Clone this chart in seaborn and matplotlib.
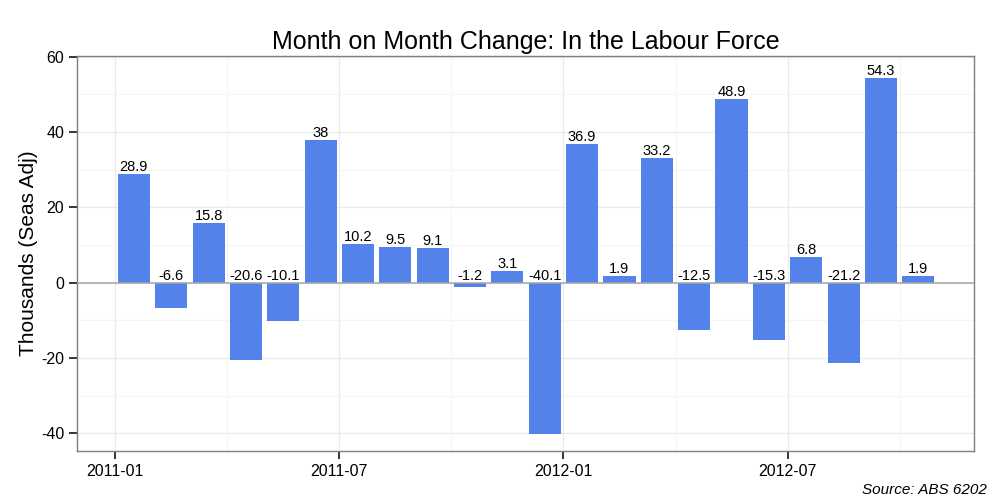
import numpy as np
import pandas as pd
import matplotlib
matplotlib.use("Agg")
import matplotlib.pyplot as plt
import seaborn as sns
from matplotlib.ticker import MultipleLocator

# ─────────────────────────────────────────────
# data (ABS 6202, labour force, month on month change, '000)
# ─────────────────────────────────────────────
months = ["2011-01", "2011-02", "2011-03", "2011-04", "2011-05", "2011-06",
          "2011-07", "2011-08", "2011-09", "2011-10", "2011-11", "2011-12",
          "2012-01", "2012-02", "2012-03", "2012-04", "2012-05", "2012-06",
          "2012-07", "2012-08", "2012-09", "2012-10"]
change = [28.9, -6.6, 15.8, -20.6, -10.1, 38, 10.2, 9.5, 9.1, -1.2, 3.1, -40.1,
          36.9, 1.9, 33.2, -12.5, 48.9, -15.3, 6.8, -21.2, 54.3, 1.9]
tick_labels = ["2011-01", "2011-07", "2012-01", "2012-07"]

BAR_COLOR = "#5282EA"

df = pd.DataFrame({"month": months, "change": change})
# months since 2011-01, bars sit mid-month
df["x"] = np.arange(len(df)) + 0.5
tick_pos = [months.index(t) for t in tick_labels]

sns.set_style("white")
plt.rcParams["font.family"] = ["Liberation Sans", "DejaVu Sans"]
plt.rcParams["axes.unicode_minus"] = False
plt.rcParams["text.color"] = "black"
plt.rcParams["axes.labelcolor"] = "black"

fig, ax = plt.subplots(figsize=(10, 5), dpi=100)
fig.subplots_adjust(left=0.0767, right=0.974, top=0.8886, bottom=0.098)

sns.barplot(data=df, x="x", y="change", native_scale=True, width=0.86,
            color=BAR_COLOR, saturation=1, linewidth=0, ax=ax, zorder=3)

ax.axhline(0, color="#a6a6a6", lw=1.1, zorder=4)

# labels above each bar (negative ones sit just above zero)
for xv, v in zip(df["x"], df["change"]):
    lab = f"{v:g}"
    ax.annotate(lab, (xv, max(v, 0)), xytext=(0, 2.2), textcoords="offset points",
                ha="center", va="baseline", fontsize=10.5, color="black", zorder=5)

ax.set_xlim(-1.03, 22.99)
ax.set_ylim(-44.7, 60.3)
ax.set_xticks(tick_pos)
ax.set_xticklabels(tick_labels)
ax.xaxis.set_minor_locator(MultipleLocator(3))
ax.yaxis.set_major_locator(MultipleLocator(20))
ax.yaxis.set_minor_locator(MultipleLocator(10))

ax.grid(which="major", color="#ebebeb", lw=1.0, zorder=0)
ax.grid(which="minor", color="#f5f5f5", lw=0.8, zorder=0)
ax.set_axisbelow(True)

for s in ax.spines.values():
    s.set_color("#7f7f7f")
    s.set_linewidth(1.0)

ax.tick_params(which="major", direction="out", length=5.5, width=1.1,
               color="black", labelsize=11.5, labelcolor="black", pad=3.5,
               bottom=True, left=True)
ax.tick_params(which="minor", length=0)

ax.set_xlabel("")
ax.set_ylabel("Thousands (Seas Adj)", fontsize=15, color="black")
ax.yaxis.set_label_coords(-0.043, 0.5)
ax.set_title("Month on Month Change: In the Labour Force", fontsize=18, pad=5,
             color="black")

fig.text(0.987, 0.012, "Source: ABS 6202", ha="right", va="baseline",
         fontsize=11, style="italic", color="black")

plt.savefig("out.png", dpi=100)
plt.close()
